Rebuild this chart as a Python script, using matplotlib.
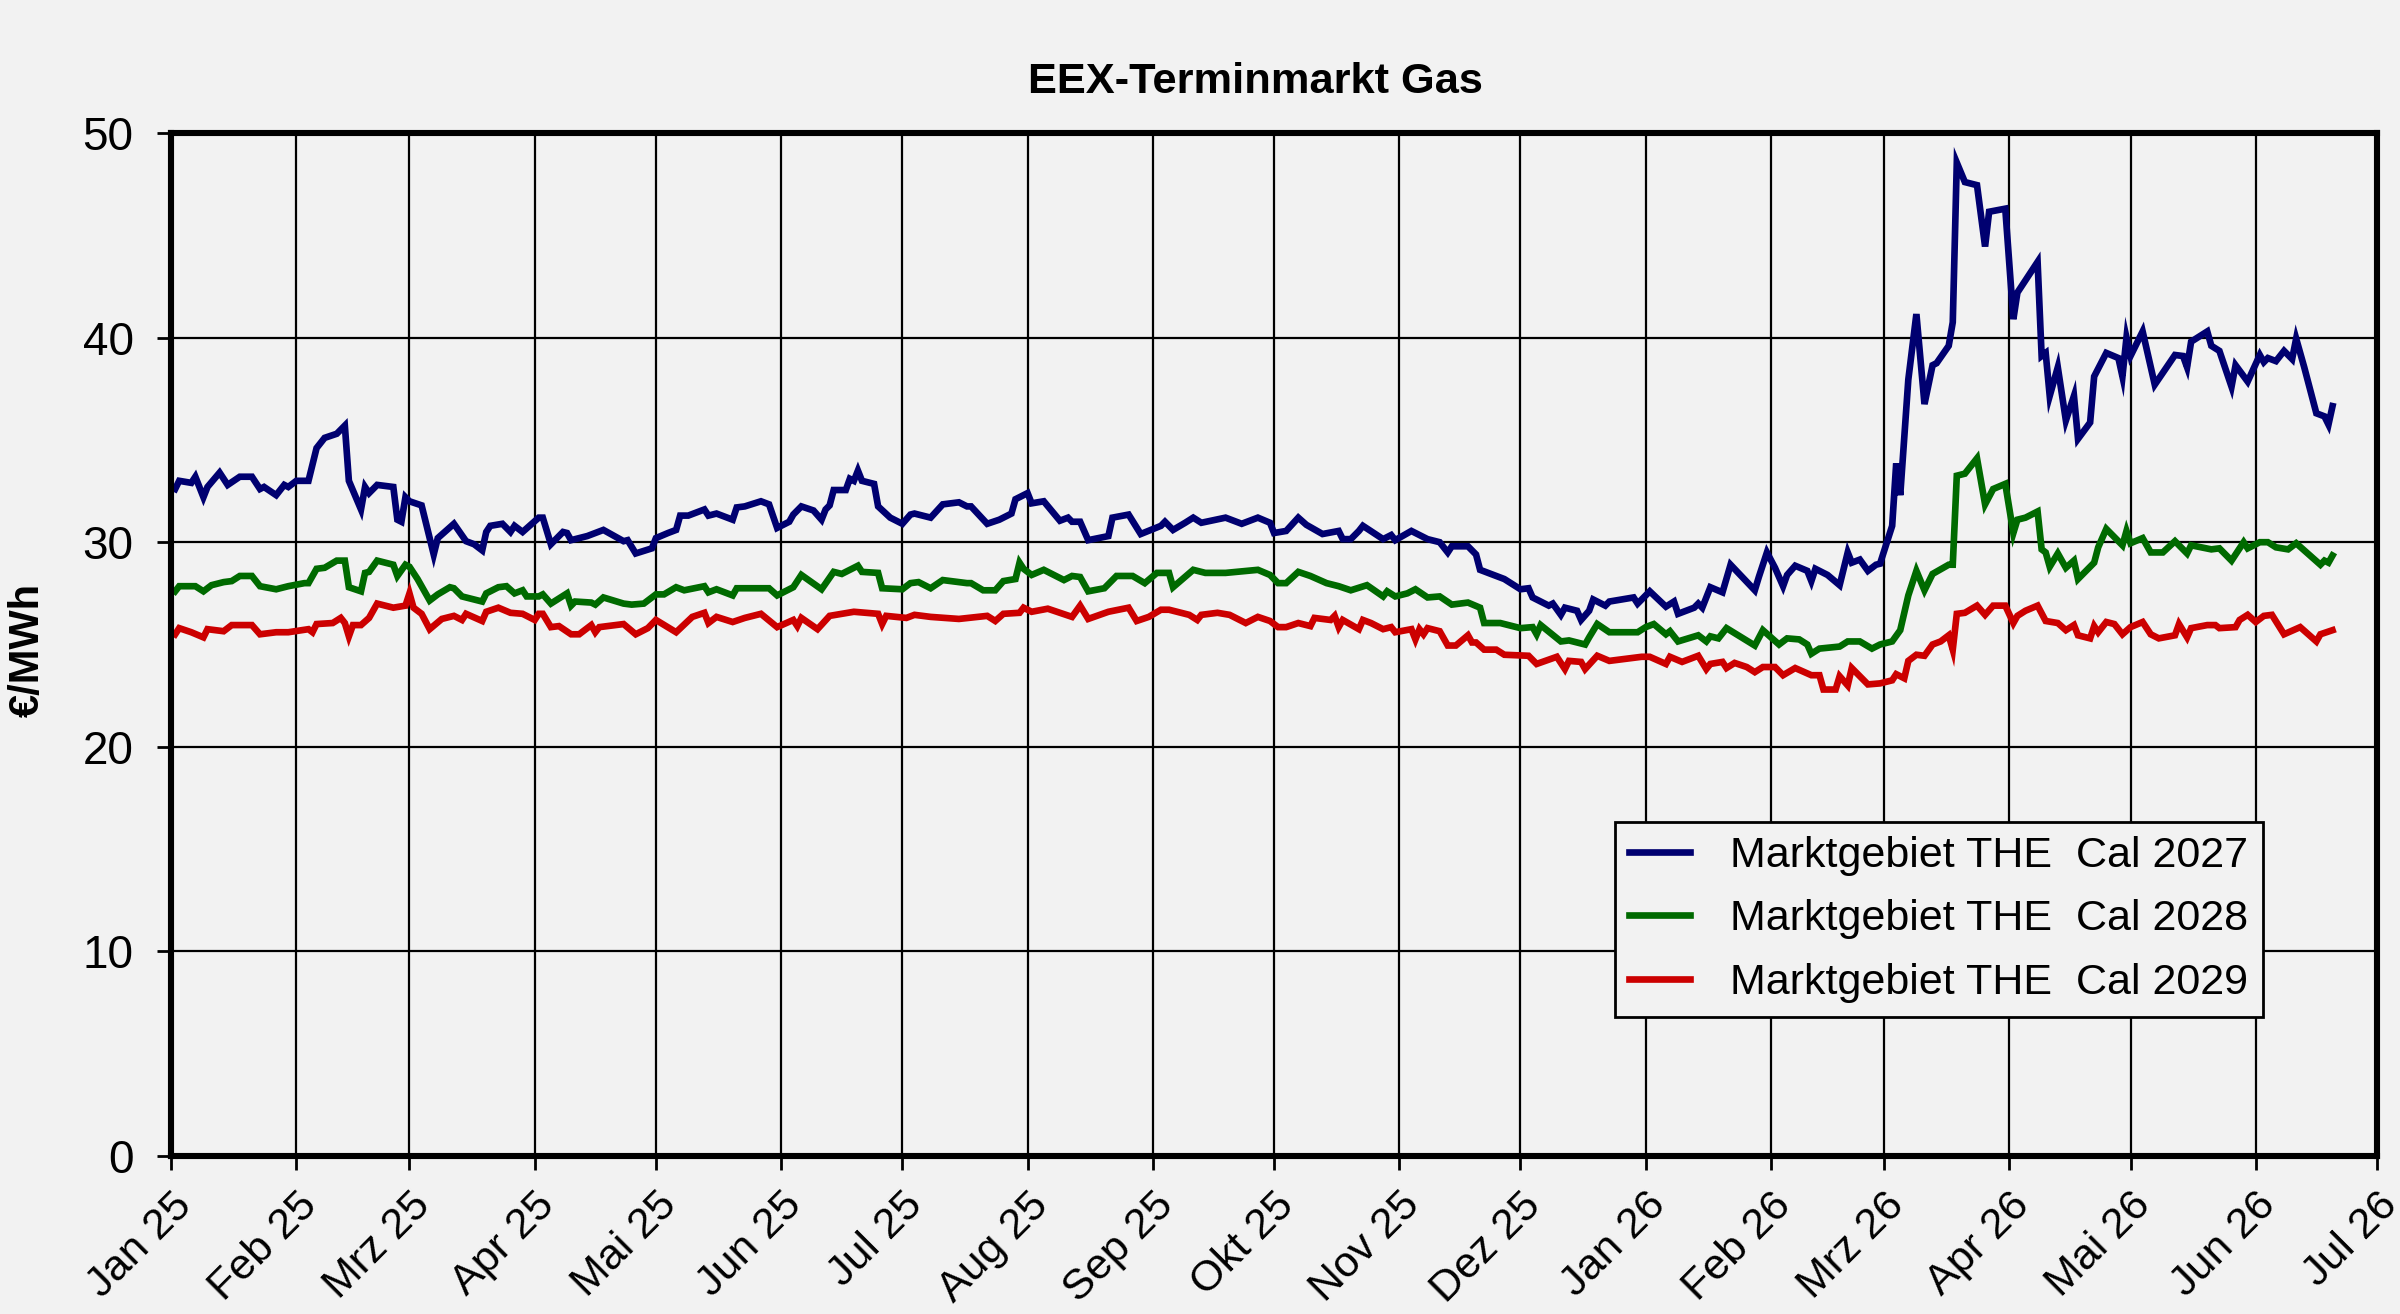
import numpy as np
import matplotlib
matplotlib.use("Agg")
import matplotlib.pyplot as plt

plt.rcParams['font.family'] = ['Liberation Sans', 'DejaVu Sans']

# days counted from 1 Jan 2025, values in EUR/MWh
days_27 = [1, 2, 5, 6, 8, 9, 12, 14, 17, 20, 22, 23, 26, 28, 29, 31, 34, 36, 38, 41,
           43, 44, 47, 48, 49, 51, 55, 56, 57, 58, 59, 62, 65, 66, 70, 73, 75, 77, 78, 79,
           82, 84, 85, 87, 91, 92, 94, 97, 98, 99, 103, 107, 112, 113, 115, 119, 120, 123, 125, 126,
           128, 132, 133, 135, 139, 140, 142, 146, 148, 150, 153, 154, 156, 159, 161, 162, 163, 164, 167, 168,
           169, 170, 171, 174, 175, 178, 181, 183, 184, 188, 191, 195, 197, 198, 202, 205, 208, 209, 212, 213,
           216, 220, 222, 223, 225, 227, 232, 233, 237, 240, 245, 246, 248, 251, 253, 255, 261, 265, 269, 272,
           273, 276, 279, 281, 285, 289, 290, 292, 294, 295, 300, 302, 303, 307, 311, 314, 316, 317, 321, 323,
           324, 330, 334, 336, 337, 341, 342, 344, 345, 348, 349, 351, 352, 355, 356, 362, 363, 366, 370, 372,
           373, 377, 378, 379, 381, 384, 386, 392, 393, 395, 397, 399, 400, 402, 405, 406, 407, 410, 413, 415,
           416, 418, 420, 422, 423, 426, 427, 428, 430, 432, 434, 436, 437, 440, 441, 442, 444, 447, 449, 450,
           454, 456, 457, 459, 462, 463, 464, 465, 467, 469, 471, 472, 475, 476, 479, 482, 483, 484, 485, 488,
           491, 496, 498, 499, 500, 504, 505, 507, 510, 511, 514, 517, 518, 519, 521, 523, 525, 526, 528, 531,
           533, 534, 535]
cal_2027 = [32.6, 33.0, 32.9, 33.2, 32.2, 32.7, 33.4, 32.8, 33.2, 33.2, 32.6, 32.7, 32.3, 32.8, 32.7, 33.0, 33.0, 34.6, 35.1, 35.3,
            35.7, 33.0, 31.6, 32.7, 32.4, 32.8, 32.7, 31.1, 31.0, 32.2, 32.0, 31.8, 29.4, 30.2, 30.9, 30.05, 29.9, 29.6, 30.5, 30.8,
            30.9, 30.5, 30.8, 30.5, 31.2, 31.2, 29.9, 30.5, 30.45, 30.1, 30.3, 30.6, 30.05, 30.1, 29.45, 29.7, 30.2, 30.45, 30.6, 31.3,
            31.3, 31.6, 31.3, 31.4, 31.1, 31.7, 31.75, 32.0, 31.85, 30.7, 31.0, 31.35, 31.75, 31.55, 31.1, 31.6, 31.8, 32.55, 32.55, 33.1,
            33.0, 33.5, 33.0, 32.85, 31.75, 31.2, 30.9, 31.35, 31.4, 31.2, 31.85, 31.95, 31.75, 31.75, 30.9, 31.1, 31.4, 32.1, 32.4, 31.9,
            32.0, 31.05, 31.2, 31.0, 31.0, 30.1, 30.3, 31.2, 31.35, 30.4, 30.8, 31.0, 30.6, 30.95, 31.2, 30.95, 31.2, 30.9, 31.2, 30.95,
            30.45, 30.55, 31.2, 30.85, 30.4, 30.55, 30.15, 30.15, 30.55, 30.8, 30.15, 30.35, 30.1, 30.55, 30.15, 30.0, 29.5, 29.8, 29.8, 29.4,
            28.65, 28.2, 27.7, 27.75, 27.3, 26.9, 27.0, 26.45, 26.8, 26.65, 26.2, 26.65, 27.2, 26.9, 27.1, 27.3, 27.0, 27.6, 26.85, 27.1,
            26.5, 26.8, 27.0, 26.8, 27.8, 27.55, 28.9, 27.65, 28.3, 29.5, 28.75, 27.85, 28.4, 28.85, 28.6, 28.1, 28.7, 28.4, 27.9, 29.5,
            29.0, 29.15, 28.6, 28.9, 28.95, 30.8, 33.85, 32.3, 37.95, 41.15, 36.75, 38.65, 38.75, 39.6, 40.75, 48.55, 47.6, 47.45, 44.45, 46.15,
            46.3, 40.9, 42.2, 42.8, 43.7, 39.1, 39.25, 37.15, 38.55, 35.95, 37.15, 35.05, 35.85, 38.1, 39.25, 39.0, 38.1, 40.0, 39.1, 40.3,
            37.7, 39.15, 39.1, 38.55, 39.8, 40.3, 39.6, 39.35, 37.6, 38.65, 37.85, 39.15, 38.8, 39.0, 38.85, 39.35, 38.95, 39.95, 38.55, 36.3,
            36.15, 35.75, 36.65]

days_28 = [1, 2, 6, 8, 10, 13, 15, 17, 20, 22, 26, 29, 33, 34, 36, 38, 41, 43, 44, 47,
           48, 49, 51, 55, 56, 58, 59, 61, 64, 66, 69, 70, 72, 77, 78, 81, 83, 85, 87, 88,
           91, 92, 94, 98, 99, 100, 104, 105, 107, 112, 114, 117, 120, 122, 125, 127, 132, 133, 135, 139,
           140, 148, 150, 154, 156, 161, 164, 166, 168, 170, 171, 175, 176, 181, 183, 185, 188, 191, 197, 198,
           201, 204, 206, 209, 210, 211, 213, 216, 221, 223, 225, 227, 231, 234, 238, 241, 244, 247, 248, 253,
           256, 261, 269, 272, 274, 276, 279, 282, 286, 289, 292, 296, 300, 301, 303, 306, 308, 311, 314, 317,
           321, 324, 325, 329, 334, 337, 338, 339, 344, 346, 350, 351, 353, 356, 363, 365, 367, 370, 371, 373,
           378, 380, 381, 383, 385, 392, 394, 398, 400, 403, 405, 406, 408, 413, 415, 418, 421, 423, 426, 428,
           430, 432, 434, 436, 440, 441, 442, 444, 447, 449, 451, 454, 456, 457, 459, 462, 463, 464, 465, 467,
           469, 471, 472, 476, 477, 479, 483, 484, 485, 488, 490, 493, 496, 499, 500, 505, 507, 510, 513, 514,
           517, 519, 521, 524, 526, 528, 532, 533, 534, 535]
cal_2028 = [27.6, 27.85, 27.85, 27.6, 27.9, 28.05, 28.1, 28.35, 28.35, 27.85, 27.7, 27.85, 28.0, 28.0, 28.7, 28.75, 29.1, 29.1, 27.8, 27.6,
            28.5, 28.55, 29.1, 28.9, 28.35, 28.9, 28.8, 28.2, 27.15, 27.45, 27.8, 27.75, 27.35, 27.1, 27.5, 27.8, 27.85, 27.5, 27.65, 27.35,
            27.35, 27.45, 27.0, 27.5, 26.9, 27.1, 27.05, 26.95, 27.3, 27.0, 26.95, 27.0, 27.45, 27.45, 27.8, 27.65, 27.85, 27.55, 27.7, 27.4,
            27.75, 27.75, 27.4, 27.8, 28.4, 27.7, 28.55, 28.45, 28.65, 28.85, 28.55, 28.5, 27.75, 27.7, 28.0, 28.05, 27.75, 28.15, 28.0, 28.0,
            27.65, 27.65, 28.1, 28.2, 29.0, 28.7, 28.4, 28.65, 28.15, 28.35, 28.3, 27.6, 27.75, 28.35, 28.35, 28.0, 28.5, 28.5, 27.8, 28.65,
            28.5, 28.5, 28.65, 28.4, 28.0, 28.0, 28.55, 28.35, 28.0, 27.85, 27.65, 27.9, 27.35, 27.6, 27.35, 27.5, 27.7, 27.3, 27.35, 26.95,
            27.05, 26.8, 26.05, 26.05, 25.8, 25.85, 25.5, 25.95, 25.15, 25.2, 25.0, 25.35, 26.0, 25.6, 25.6, 25.85, 26.0, 25.5, 25.65, 25.15,
            25.45, 25.15, 25.4, 25.3, 25.8, 24.95, 25.7, 25.0, 25.3, 25.25, 25.0, 24.55, 24.8, 24.9, 25.15, 25.15, 24.8, 25.0, 25.15, 25.7,
            27.4, 28.6, 27.65, 28.45, 28.9, 28.9, 33.25, 33.35, 34.1, 31.85, 32.6, 32.85, 30.45, 31.1, 31.2, 31.5, 29.65, 29.5, 28.8, 29.45,
            28.75, 29.1, 28.2, 29.0, 29.75, 30.65, 29.85, 30.55, 29.95, 30.2, 29.5, 29.5, 30.05, 29.45, 29.85, 29.65, 29.7, 29.1, 30.0, 29.7,
            30.0, 30.0, 29.75, 29.65, 29.95, 29.6, 28.9, 29.1, 29.0, 29.35]

days_29 = [1, 2, 5, 8, 9, 13, 15, 20, 22, 26, 29, 34, 35, 36, 40, 42, 43, 44, 45, 47,
           49, 51, 55, 58, 59, 60, 62, 64, 67, 70, 72, 73, 77, 78, 81, 84, 87, 90, 91, 92,
           94, 96, 99, 101, 104, 105, 106, 112, 115, 118, 120, 125, 129, 132, 133, 135, 139, 142, 146, 150,
           154, 155, 156, 160, 163, 169, 175, 176, 177, 182, 184, 188, 195, 202, 204, 206, 210, 211, 213, 217,
           223, 225, 227, 232, 237, 239, 242, 245, 247, 252, 254, 255, 259, 262, 266, 269, 272, 274, 276, 279,
           282, 283, 287, 288, 289, 290, 294, 295, 297, 300, 302, 303, 307, 308, 309, 310, 311, 314, 316, 318,
           321, 322, 323, 325, 328, 330, 336, 338, 343, 345, 346, 349, 350, 353, 356, 364, 366, 370, 371, 374,
           378, 380, 381, 384, 385, 387, 390, 392, 394, 397, 399, 402, 406, 408, 409, 412, 413, 415, 416, 420,
           423, 426, 427, 429, 430, 432, 434, 436, 438, 440, 441, 442, 444, 447, 449, 451, 454, 456, 457, 459,
           462, 464, 467, 469, 471, 472, 475, 476, 477, 479, 481, 483, 485, 488, 490, 492, 496, 497, 499, 500,
           504, 506, 507, 511, 512, 514, 516, 518, 520, 523, 527, 531, 532, 535]
cal_2029 = [25.5, 25.8, 25.6, 25.35, 25.75, 25.65, 25.95, 25.95, 25.5, 25.6, 25.6, 25.75, 25.6, 26.0, 26.05, 26.3, 26.05, 25.4, 25.95, 25.95,
            26.3, 27.0, 26.8, 26.9, 27.5, 26.8, 26.5, 25.75, 26.25, 26.4, 26.2, 26.5, 26.15, 26.6, 26.8, 26.55, 26.5, 26.2, 26.5, 26.5,
            25.85, 25.9, 25.5, 25.5, 25.95, 25.6, 25.85, 26.0, 25.5, 25.8, 26.2, 25.6, 26.35, 26.55, 26.05, 26.35, 26.1, 26.3, 26.5, 25.85,
            26.2, 25.9, 26.3, 25.75, 26.4, 26.6, 26.5, 26.0, 26.4, 26.3, 26.45, 26.35, 26.25, 26.4, 26.15, 26.5, 26.55, 26.8, 26.6, 26.75,
            26.35, 26.9, 26.25, 26.6, 26.8, 26.15, 26.35, 26.7, 26.7, 26.45, 26.2, 26.45, 26.55, 26.45, 26.05, 26.35, 26.15, 25.85, 25.85, 26.05,
            25.9, 26.3, 26.2, 26.4, 25.85, 26.2, 25.75, 26.2, 26.05, 25.75, 25.85, 25.6, 25.75, 25.25, 25.75, 25.5, 25.8, 25.65, 24.95, 24.95,
            25.45, 25.1, 25.1, 24.75, 24.75, 24.5, 24.45, 24.05, 24.4, 23.8, 24.2, 24.15, 23.8, 24.45, 24.2, 24.4, 24.4, 24.05, 24.4, 24.15,
            24.45, 23.8, 24.05, 24.15, 23.85, 24.1, 23.9, 23.65, 23.9, 23.9, 23.5, 23.85, 23.5, 23.5, 22.8, 22.8, 23.45, 23.0, 23.85, 23.05,
            23.1, 23.25, 23.55, 23.35, 24.2, 24.5, 24.45, 25.0, 25.15, 25.45, 24.75, 26.5, 26.55, 26.9, 26.45, 26.9, 26.9, 26.05, 26.4, 26.65,
            26.9, 26.15, 26.05, 25.7, 25.95, 25.45, 25.3, 25.9, 25.6, 26.1, 26.0, 25.5, 25.85, 26.1, 25.5, 25.3, 25.45, 26.0, 25.35, 25.8,
            25.95, 25.95, 25.8, 25.85, 26.2, 26.45, 26.1, 26.4, 26.45, 25.5, 25.85, 25.15, 25.5, 25.7]

series = [
    ("Marktgebiet THE  Cal 2027", days_27, cal_2027, "#000070"),
    ("Marktgebiet THE  Cal 2028", days_28, cal_2028, "#006A00"),
    ("Marktgebiet THE  Cal 2029", days_29, cal_2029, "#CC0000"),
]

month_names = ["Jan", "Feb", "Mrz", "Apr", "Mai", "Jun", "Jul", "Aug", "Sep", "Okt", "Nov", "Dez"]

start = np.datetime64("2025-01-01")
months = np.arange(np.datetime64("2025-01"), np.datetime64("2026-08"), dtype="datetime64[M]")
month_ticks = months.astype("datetime64[D]")
month_labels = ["%s %02d" % (month_names[int(str(m)[5:7]) - 1], int(str(m)[2:4])) for m in months]

bg = "#f2f2f2"
fig = plt.figure(figsize=(12, 6.57), dpi=200, facecolor=bg)
ax = fig.add_axes([0.0713, 0.1202, 0.9191, 0.7786])
ax.set_facecolor(bg)

for name, d, v, col in series:
    x = start + np.array(d, dtype="timedelta64[D]")
    ax.plot(x, v, color=col, lw=2.4, label=name, solid_joinstyle="miter")

ax.set_ylim(0, 50)
ax.set_yticks(np.arange(0, 51, 10))
ax.set_xlim(month_ticks[0], month_ticks[-1])
ax.set_xticks(month_ticks)
ax.set_xticklabels(month_labels, rotation=45, ha="right", rotation_mode="anchor")

ax.grid(True, color="black", lw=0.8)
ax.set_axisbelow(True)
for s in ax.spines.values():
    s.set_linewidth(2.2)
    s.set_color("black")
ax.tick_params(axis="both", direction="out", length=5, width=1, color="black")
ax.tick_params(axis="y", pad=8.5, labelsize=16.5)
ax.tick_params(axis="x", pad=5.5, labelsize=15.5)

fig.text(0.523, 1 - 82 / 1314, "EEX-Terminmarkt Gas", ha="center", va="center",
         fontsize=15.6, fontweight="bold")
fig.text(28 / 2400, 1 - 650 / 1314, "€/MWh", ha="center", va="center", rotation=90,
         fontsize=15, fontweight="bold")

leg = ax.legend(loc="upper left", bbox_to_anchor=(0.6546, 0.327), borderaxespad=0,
                fontsize=15.5, frameon=True, fancybox=False, framealpha=1, edgecolor="black",
                handlelength=1.4, handletextpad=0.95, labelspacing=0.55, borderpad=0.33)
leg.get_frame().set_facecolor(bg)
leg.get_frame().set_linewidth(1.0)

fig.savefig("out.png", dpi=200, facecolor=bg)
